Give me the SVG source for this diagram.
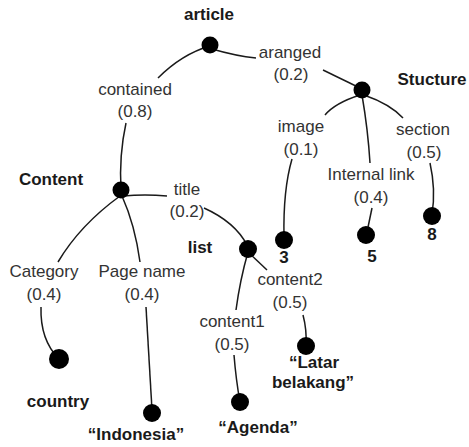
<svg xmlns="http://www.w3.org/2000/svg" width="469" height="447" viewBox="0 0 469 447">
<style>
.e{fill:none;stroke:#1a1a1a;stroke-width:1.5}
.n{fill:#000}
text{font-family:"Liberation Sans",Arial,sans-serif;font-size:17px;text-anchor:middle}
.l{fill:#333}
.b{font-weight:bold;fill:#1a1a1a}
</style>
<rect width="469" height="447" fill="#fff"/>
<g id="connectors">
<path class="e" d="M210,46 Q182,54 158,78"/>
<path class="e" d="M126,123 Q119,155 121,190"/>
<path class="e" d="M212,49 Q236,56 256,58"/>
<path class="e" d="M323,70 L360,88"/>
<path class="e" d="M360,95 Q335,103 325,115"/>
<path class="e" d="M364,95 Q390,104 403,118"/>
<path class="e" d="M362,95 Q368,130 370,163"/>
<path class="e" d="M292,159 Q283,190 284,237"/>
<path class="e" d="M372,208 L367,232"/>
<path class="e" d="M430,163 Q436,190 432,214"/>
<path class="e" d="M123,196 Q145,194 167,196"/>
<path class="e" d="M204,208 Q235,222 247,245"/>
<path class="e" d="M248,252 Q240,280 236,310"/>
<path class="e" d="M248,252 L267,270"/>
<path class="e" d="M303,315 Q307,330 306,346"/>
<path class="e" d="M234,355 Q236,380 240,402"/>
<path class="e" d="M120,196 Q80,225 58,262"/>
<path class="e" d="M122,196 Q135,225 140,262"/>
<path class="e" d="M41,307 Q40,340 59,359"/>
<path class="e" d="M146,307 L152,410"/>
</g>
<g id="edge-labels">
<text class="l" x="135" y="95">contained</text><text class="l" x="135" y="117">(0.8)</text>
<text class="l" x="290" y="58">aranged</text><text class="l" x="291" y="80">(0.2)</text>
<text class="l" x="301" y="132">image</text><text class="l" x="301" y="155">(0.1)</text>
<text class="l" x="423" y="135">section</text><text class="l" x="424" y="158">(0.5)</text>
<text class="l" x="371" y="180">Internal link</text><text class="l" x="371" y="203">(0.4)</text>
<text class="l" x="187" y="195">title</text><text class="l" x="187" y="217">(0.2)</text>
<text class="l" x="44" y="277">Category</text><text class="l" x="44" y="300">(0.4)</text>
<text class="l" x="142" y="277">Page name</text><text class="l" x="142" y="300">(0.4)</text>
<text class="l" x="290" y="285">content2</text><text class="l" x="290" y="308">(0.5)</text>
<text class="l" x="232" y="327">content1</text><text class="l" x="232" y="350">(0.5)</text>
</g>
<g id="article"><circle class="n" cx="210" cy="45" r="8.5"/><text class="b" x="209" y="20">article</text></g>
<g id="stucture"><circle class="n" cx="362" cy="90" r="8.5"/><text class="b" x="432" y="85">Stucture</text></g>
<g id="content"><circle class="n" cx="121" cy="190" r="8.5"/><text class="b" x="51" y="185">Content</text></g>
<g id="list"><circle class="n" cx="248" cy="249" r="9"/><text class="b" x="200" y="253">list</text></g>
<g id="n3"><circle class="n" cx="284" cy="240" r="9"/><text class="b" x="284" y="263">3</text></g>
<g id="n5"><circle class="n" cx="366" cy="235" r="9"/><text class="b" x="372" y="262">5</text></g>
<g id="n8"><circle class="n" cx="432" cy="216" r="9"/><text class="b" x="432" y="240">8</text></g>
<g id="country"><circle class="n" cx="59" cy="359" r="10"/><text class="b" x="58" y="407">country</text></g>
<g id="indonesia"><circle class="n" cx="152" cy="413" r="9"/><text class="b" x="136" y="440">“Indonesia”</text></g>
<g id="agenda"><circle class="n" cx="240" cy="402" r="9"/><text class="b" x="258" y="433">“Agenda”</text></g>
<g id="latar"><circle class="n" cx="306" cy="346" r="9"/><text class="b" x="314" y="368">“Latar</text><text class="b" x="313" y="388">belakang”</text></g>
</svg>
